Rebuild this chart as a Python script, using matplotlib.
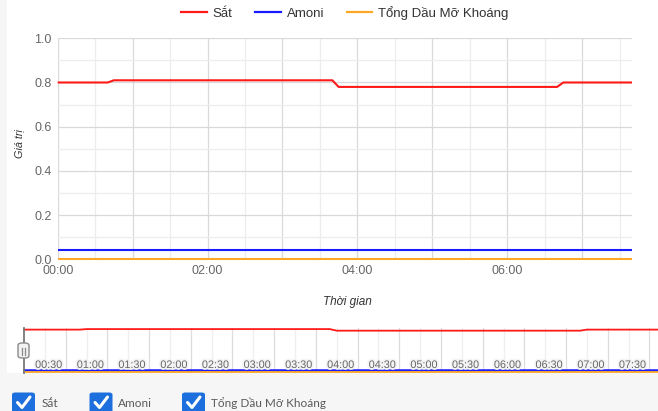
import matplotlib
matplotlib.use("Agg")
import matplotlib.pyplot as plt
from matplotlib.patches import FancyBboxPatch, Rectangle
from matplotlib.lines import Line2D
import matplotlib.patheffects as pe
import numpy as np

# ---------------- data ----------------
series_names = ["Sắt", "Amoni", "Tổng Dầu Mỡ Khoáng"]
series_colors = ["#ff1a1a", "#1a1aff", "#ffa726"]

times_sat = ["00:00", "00:40", "00:45", "03:40", "03:45", "06:40", "06:45", "07:40"]
values_sat = [0.80, 0.80, 0.81, 0.81, 0.78, 0.78, 0.80, 0.80]
times_amoni = ["00:00", "07:40"]
values_amoni = [0.04, 0.04]
times_dau = ["00:00", "07:40"]
values_dau = [0.0, 0.0]

x_tick_labels = ["00:00", "02:00", "04:00", "06:00"]
y_ticks = [0.0, 0.2, 0.4, 0.6, 0.8, 1.0]
nav_tick_labels = ["00:30", "01:00", "01:30", "02:00", "02:30", "03:00", "03:30",
                   "04:00", "04:30", "05:00", "05:30", "06:00", "06:30", "07:00", "07:30"]
x_end = "07:40"
y_label = "Giá trị"
x_label = "Thời gian"


def hours(s):
    h, m = s.split(":")
    return int(h) + int(m) / 60.0


W, H = 658, 411


def fx(x):
    return x / W


def fy(y):
    return 1 - y / H


FONT = ["Liberation Sans", "DejaVu Sans"]
plt.rcParams["font.family"] = FONT

fig = plt.figure(figsize=(W / 100, H / 100), dpi=100, facecolor="#f6f6f6")
# white chart container
fig.patches.append(Rectangle((fx(7), fy(373)), 1, 373 / H, transform=fig.transFigure,
                             facecolor="white", edgecolor="none", zorder=-10))

series = [
    ([hours(t) for t in times_sat], values_sat),
    ([hours(t) for t in times_amoni], values_amoni),
    ([hours(t) for t in times_dau], values_dau),
]
xmax = hours(x_end)

# ---------------- main axes ----------------
L, R, T, B = 57.7, 632.0, 38.3, 259.3
ax = fig.add_axes([fx(L), fy(B), (R - L) / W, (B - T) / H])
ax.set_facecolor("white")
for sp in ax.spines.values():
    sp.set_visible(False)
ax.set_xlim(0, xmax)
ax.set_ylim(0, 1.0)

major_x = np.arange(0, int(xmax) + 1, 1.0)
ax.set_xticks(major_x)
lbl_map = {hours(s): s for s in x_tick_labels}
ax.set_xticklabels([lbl_map.get(v, "") for v in major_x])
ax.set_xticks(np.arange(0.5, xmax, 1.0), minor=True)
ax.set_yticks(y_ticks)
ax.set_yticklabels([f"{v:.1f}" for v in y_ticks])
ax.set_yticks(np.arange(0.1, 1.0, 0.2), minor=True)
ax.tick_params(which="both", length=0)
ax.tick_params(axis="x", pad=4, labelsize=9, labelcolor="#666666")
ax.tick_params(axis="y", pad=4.5, labelsize=9, labelcolor="#666666")
ax.grid(which="major", color="#d9d9d9", linewidth=0.9)
ax.grid(which="minor", color="#ededed", linewidth=0.9)
ax.set_axisbelow(True)

for (xs, ys), c, n in zip(series, series_colors, series_names):
    ax.plot(xs, ys, color=c, lw=1.5, clip_on=False, label=n, solid_capstyle="butt")

fig.text(fx(19.3), fy(144), y_label, rotation=90, ha="center", va="center",
         fontsize=7.8, style="italic", color="#333333")
fig.text(fx(347), fy(301.5), x_label, ha="center", va="center",
         fontsize=8.5, style="italic", color="#333333")

handles = [Line2D([], [], color=c, lw=1.6) for c in series_colors]
fig.legend(handles, series_names, loc="center", bbox_to_anchor=(fx(345), fy(13)),
           ncol=3, frameon=False, fontsize=9.5, handlelength=1.95, handletextpad=0.45,
           columnspacing=1.7, borderpad=0, labelcolor="#333333")

# ---------------- navigator ----------------
NL, NR, NT, NB = 24.0, 663.4, 327.5, 373.0
nav = fig.add_axes([fx(NL), fy(NB), (NR - NL) / W, (NB - NT) / H])
nav.set_facecolor("white")
for sp in nav.spines.values():
    sp.set_visible(False)
nav.set_xlim(0, xmax)
nav.set_ylim(-0.02, 0.84)
nav.set_xticks([hours(s) for s in nav_tick_labels])
nav.set_xticks(np.arange(0.25, xmax, 0.5), minor=True)
nav.set_xticklabels([])
nav.set_yticks([])
nav.tick_params(which="both", length=0)
nav.grid(axis="x", which="major", color="#dcdcdc", linewidth=0.9)
nav.grid(axis="x", which="minor", color="#efefef", linewidth=0.9)
nav.set_axisbelow(True)

nav_lw = [1.3, 1.8, 1.3]
for (xs, ys), c, lw in zip(series, series_colors, nav_lw):
    nav.plot(xs, ys, color=c, lw=lw, clip_on=False, zorder=2)

for s in nav_tick_labels:
    nav.annotate(s, xy=(hours(s), 0.0), xycoords=("data", "axes fraction"),
                 xytext=(-2.5, 5.8), textcoords="offset points", ha="right", va="center",
                 fontsize=7.8, color="#666666", zorder=3,
                 path_effects=[pe.withStroke(linewidth=2.6, foreground="#f4f4f4")])

# navigator outline (left edge) and handle
fig.lines.append(Line2D([fx(23.5), fx(23.5)], [fy(328), fy(373)], transform=fig.transFigure,
                        color="#777777", lw=1.3, zorder=5))
fig.patches.append(FancyBboxPatch((fx(18), fy(358)), 11 / W, 15 / H,
                                  boxstyle="round,pad=0,rounding_size=0.006",
                                  transform=fig.transFigure, facecolor="#f2f2f2",
                                  edgecolor="#8a8a8a", lw=1.0, zorder=6))
for xx in (21.8, 25.0):
    fig.lines.append(Line2D([fx(xx), fx(xx)], [fy(347.5), fy(354.5)], transform=fig.transFigure,
                            color="#8a8a8a", lw=0.9, zorder=7))

# ---------------- checkboxes ----------------
box_x = [12.0, 89.5, 182.0]
text_x = [41.7, 117.7, 210.7]
for bx, tx, n in zip(box_x, text_x, series_names):
    fig.patches.append(FancyBboxPatch((fx(bx), fy(415.5)), 23 / W, 23 / H,
                                      boxstyle="round,pad=0,rounding_size=0.005",
                                      transform=fig.transFigure, facecolor="#1c6fdc",
                                      edgecolor="none", zorder=5))
    fig.lines.append(Line2D([fx(bx + 5.5), fx(bx + 10), fx(bx + 18)],
                            [fy(402.5), fy(407.5), fy(397)], transform=fig.transFigure,
                            color="white", lw=2.2, solid_capstyle="round",
                            solid_joinstyle="round", zorder=6))
    fig.text(fx(tx), fy(403.5), n, ha="left", va="center", fontsize=8.5,
             color="#5a5a5a", family=["Lato", "DejaVu Sans"])

fig.savefig("out.png", dpi=100, facecolor=fig.get_facecolor())
